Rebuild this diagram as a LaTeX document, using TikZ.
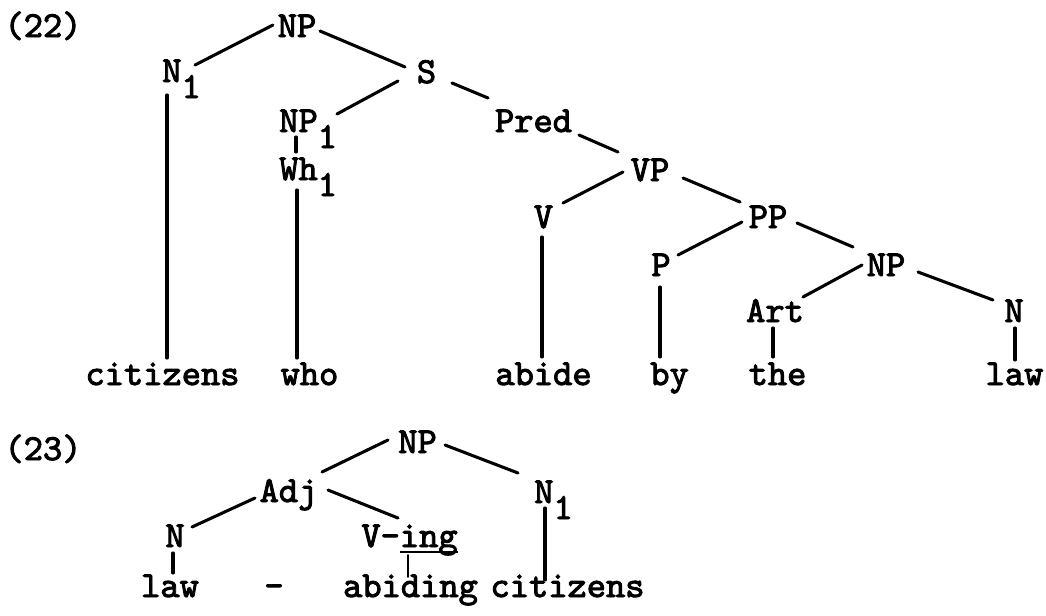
\documentclass[tikz,border=0pt]{standalone}
\usepackage{fontspec}
\newfontfamily\tw{lmmono10-regular.otf}[FakeBold=2.6]
\usetikzlibrary{calc}
\newcommand\twf{\tw\fontsize{27.5}{30}\selectfont}
\newcommand\sbs[1]{\raisebox{-12pt}{#1}}
\newcommand\uln[1]{\setbox0\hbox{#1}\rlap{\rule[-4.5pt]{\wd0}{1.5pt}}\box0}
\begin{document}
\begin{tikzpicture}[x=0.75pt,y=-0.75pt,
  lab/.style={font=\twf, inner sep=0pt, anchor=base},
  labw/.style={lab, anchor=base west},
  edge/.style={line width=2.3pt, line cap=round},
  thinedge/.style={line width=1.4pt, line cap=round}]
\useasboundingbox (0,0) rectangle (1046,615);
% ---------- (22) ----------
\node[lab] (l22) at (43,37) {(22)};
\node[lab] (np0) at (297,37) {NP};
\node[labw] (n1) at (162,82) {N\sbs{1}};
\node[lab] (s) at (426.5,83) {S};
\node[labw] (np1) at (279,132) {NP\sbs{1}};
\node[labw] (wh1) at (279,180) {Wh\sbs{1}};
\node[lab] (pred) at (533.5,132) {Pred};
\node[lab] (vp) at (650,181) {VP};
\node[lab] (v) at (543.5,228) {V};
\node[lab] (pp) at (768,228) {PP};
\node[lab] (p) at (661,276) {P};
\node[lab] (np2) at (886,276) {NP};
\node[lab] (art) at (775,322) {Art};
\node[lab] (nr) at (1014,322) {N};
\node[lab] (wcit) at (162.5,385) {citizens};
\node[lab] (wwho) at (309.5,385) {who};
\node[lab] (wabide) at (543.5,385) {abide};
\node[lab] (wby) at (669.5,385) {by};
\node[lab] (wthe) at (777.5,385) {the};
\node[lab] (wlaw) at (1014.5,385) {law};
\draw[edge] ($(np0.base)+(-24,-12)$) -- ($(n1.base west)+(33,-17)$);
\draw[edge] ($(np0.base)+(23,-6)$) -- ($(s.base)+(-21.5,-16)$);
\draw[edge] ($(s.base)+(-28.5,-2)$) -- ($(np1.base west)+(58,-18)$);
\draw[edge] ($(s.base)+(25.5,0)$) -- ($(pred.base)+(-45.5,-34)$);
\draw[edge] ($(pred.base)+(45.5,3)$) -- ($(vp.base)+(-32,-29)$);
\draw[edge] ($(vp.base)+(-27,-9)$) -- ($(v.base)+(19.5,-25)$);
\draw[edge] ($(vp.base)+(33,-3)$) -- ($(pp.base)+(-28,-26)$);
\draw[edge] ($(pp.base)+(-26,-6)$) -- ($(p.base)+(17,-21)$);
\draw[edge] ($(pp.base)+(29,-5)$) -- ($(np2.base)+(-33,-29)$);
\draw[edge] ($(np2.base)+(-24,-11)$) -- ($(art.base)+(28,-25)$);
\draw[edge] ($(np2.base)+(32,-4)$) -- ($(nr.base)+(-21,-22)$);
\draw[edge] ($(n1.base west)+(5,13)$) -- ($(wcit.base)+(4.5,-27)$);
\draw[edge] ($(np1.base west)+(17,5)$) -- ($(wh1.base west)+(17,-28)$);
\draw[edge] ($(wh1.base west)+(18,10)$) -- ($(wwho.base)+(-12.5,-27)$);
\draw[edge] ($(v.base)+(-1.5,9)$) -- ($(wabide.base)+(-1.5,-28)$);
\draw[edge] ($(p.base)+(-1,11)$) -- ($(wby.base)+(-9.5,-28)$);
\draw[edge] ($(art.base)+(-2,6)$) -- ($(wthe.base)+(-4.5,-28)$);
\draw[edge] ($(nr.base)+(1,6)$) -- ($(wlaw.base)+(0.5,-25)$);
% ---------- (23) ----------
\node[lab] (l23) at (43,460) {(23)};
\node[lab] (np3) at (417.5,453) {NP};
\node[lab] (adj) at (288.5,502) {Adj};
\node[labw] (n1b) at (534,503) {N\sbs{1}};
\node[lab] (nl) at (175,547) {N};
\node[lab] (ving) at (409.5,547) {V-\uln{ing}};
\node[lab] (wlaw2) at (170,597) {law};
\node[lab] (wdash) at (274,597) {-};
\node[lab] (wabiding) at (410.5,597) {abiding};
\node[lab] (wcit2) at (567.5,597) {citizens};
\draw[edge] ($(np3.base)+(-29.5,-13)$) -- ($(adj.base)+(33.5,-30)$);
\draw[edge] ($(np3.base)+(27.5,-8)$) -- ($(n1b.base west)+(-16,-30)$);
\draw[edge] ($(adj.base)+(-33.5,-4)$) -- ($(nl.base)+(17,-20)$);
\draw[edge] ($(adj.base)+(39.5,-12)$) -- ($(ving.base)+(-11.5,-29)$);
\draw[edge] ($(nl.base)+(-2,6)$) -- ($(wlaw2.base)+(3,-24)$);
\draw[thinedge] ($(ving.base)+(-1.5,8)$) -- ($(wabiding.base)+(-2.5,-20)$);
\draw[edge] ($(n1b.base west)+(11,5)$) -- ($(wcit2.base)+(-22.5,-17)$);
\end{tikzpicture}
\end{document}
